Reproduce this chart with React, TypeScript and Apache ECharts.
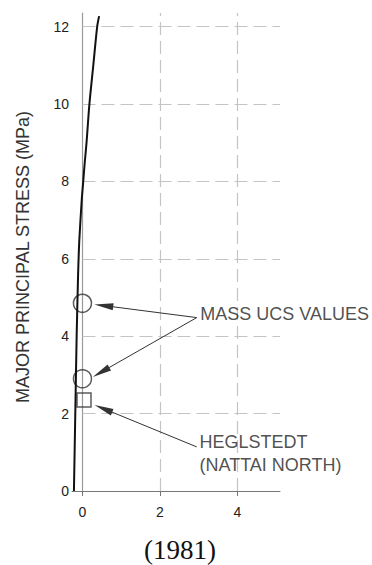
import React, { useEffect, useRef } from "react";
import * as echarts from "echarts";

// Axis ticks
const xTicks = [0, 2, 4];
const yTicks = [0, 2, 4, 6, 8, 10, 12];
const xRange = [-0.27, 5.1];
const yRange = [0, 12.35];

// Strength curve (x = minor principal stress, y = major principal stress)
const curveX = [-0.22, -0.185, -0.15, -0.115, -0.1, -0.08, -0.02, 0.02, 0.06, 0.105, 0.18, 0.28, 0.38, 0.43];
const curveY = [0, 2, 4, 5.5, 6, 6.5, 7.5, 8, 8.5, 9, 10, 11, 12, 12.27];

// Mass UCS values (circles)
const ucsX = [0, 0];
const ucsY = [4.85, 2.9];

// Heglstedt (Nattai North) (square)
const hegX = [0.04];
const hegY = [2.35];

// Annotation arrows: from -> to (arrow-head centre)
const arrowFrom = [
  [2.95, 4.48],
  [2.95, 4.48],
  [2.95, 1.14],
];
const arrowTo = [
  [0.55, 4.79],
  [0.48, 3.07],
  [0.54, 2.13],
];

// Annotation labels
const labelTexts = ["MASS UCS VALUES", "HEGLSTEDT\n(NATTAI NORTH)"];
const labelPos = [
  [3.03, 4.58],
  [3.01, 0.97],
];

const yAxisTitle = "MAJOR PRINCIPAL STRESS (MPa)";
const caption = "(1981)";

const SANS = "'Liberation Sans', Arial, sans-serif";
const SERIF = "'Liberation Serif', 'Times New Roman', serif";

export default function App() {
  const ref = useRef<HTMLDivElement>(null);

  useEffect(() => {
    if (!ref.current) return;
    const chart = echarts.init(ref.current, undefined, { renderer: "svg" });

    const gridSegments = [
      ...yTicks.filter((v) => v > 0).map((v) => ({ coords: [[0, v], [xRange[1], v]] })),
      ...xTicks.filter((v) => v > 0).map((v) => ({ coords: [[v, yRange[0]], [v, yRange[1]]] })),
    ];

    const option: any = {
      animation: false,
      backgroundColor: "#ffffff",
      grid: { left: 72, top: 13, width: 208, height: 478, containLabel: false },
      xAxis: {
        type: "value",
        min: xRange[0],
        max: xRange[1],
        axisLine: { show: true, onZero: true, lineStyle: { color: "#777777", width: 1 } },
        axisTick: { show: true, customValues: xTicks, length: 5, lineStyle: { color: "#777777" } },
        axisLabel: {
          customValues: xTicks,
          margin: 14,
          fontSize: 14,
          color: "#222",
          fontFamily: SANS,
        },
        splitLine: { show: false },
      },
      yAxis: {
        type: "value",
        min: yRange[0],
        max: yRange[1],
        axisLine: { show: true, onZero: true, lineStyle: { color: "#999999", width: 1.2 } },
        axisTick: { show: false },
        axisLabel: {
          customValues: yTicks,
          margin: 3,
          fontSize: 14,
          color: "#222",
          fontFamily: SANS,
        },
        splitLine: { show: false },
      },
      graphic: [
        {
          type: "text",
          x: 23,
          y: 257,
          rotation: Math.PI / 2,
          style: {
            text: yAxisTitle,
            font: `18px ${SANS}`,
            fill: "#333",
            align: "center",
            verticalAlign: "middle",
          },
        },
        {
          type: "text",
          x: 180,
          y: 550,
          style: {
            text: caption,
            font: `27px ${SERIF}`,
            fill: "#111",
            align: "center",
            verticalAlign: "middle",
          },
        },
      ],
      series: [
        {
          type: "lines",
          coordinateSystem: "cartesian2d",
          silent: true,
          z: 1,
          symbol: ["none", "none"],
          lineStyle: { color: "#c4c4c4", width: 1.2, type: [13, 6], opacity: 1 },
          data: gridSegments,
        },
        {
          type: "line",
          data: curveX.map((x, i) => [x, curveY[i]]),
          smooth: 0.3,
          showSymbol: false,
          symbol: "none",
          z: 5,
          lineStyle: { color: "#111", width: 2 },
        },
        {
          type: "scatter",
          data: ucsX.map((x, i) => [x, ucsY[i]]),
          symbol: "circle",
          symbolSize: 18,
          z: 4,
          itemStyle: { color: "rgba(255,255,255,0)", borderColor: "#333", borderWidth: 1.5 },
        },
        {
          type: "scatter",
          data: hegX.map((x, i) => [x, hegY[i]]),
          symbol: "rect",
          symbolSize: 14,
          z: 4,
          itemStyle: { color: "rgba(255,255,255,0)", borderColor: "#333", borderWidth: 1.5 },
        },
        {
          type: "lines",
          coordinateSystem: "cartesian2d",
          silent: true,
          z: 6,
          symbol: ["none", "triangle"],
          symbolSize: [[7, 19], [7, 19]],
          lineStyle: { color: "#333", width: 1, opacity: 1 },
          data: arrowFrom.map((f, i) => ({ coords: [f, arrowTo[i]] })),
        },
        {
          type: "scatter",
          data: labelPos.map((p, i) => ({ value: p, name: labelTexts[i] })),
          symbolSize: 1,
          z: 7,
          itemStyle: { color: "rgba(0,0,0,0)" },
          label: {
            show: true,
            position: "right",
            distance: 0,
            formatter: (p: any) => p.name,
            fontSize: 18,
            lineHeight: 23,
            color: "#222",
            fontFamily: SANS,
            align: "left",
          },
        },
      ],
    };

    chart.setOption(option);
    return () => chart.dispose();
  }, []);

  return (
    <div
      ref={ref}
      style={{ position: "absolute", left: 0, top: 0, width: 372, height: 565 }}
    />
  );
}
